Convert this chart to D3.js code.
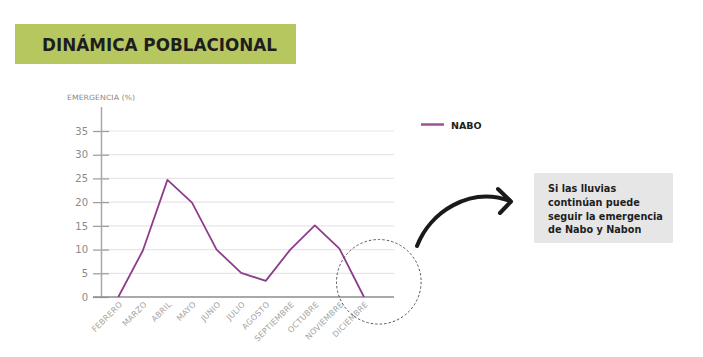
<!DOCTYPE html>
<html><head><meta charset="utf-8">
<script src="https://cdn.jsdelivr.net/npm/d3@7"></script>
<style>body{margin:0;background:#fff}svg{display:block}</style>
</head><body>
<script>
const months = ["FEBRERO","MARZO","ABRIL","MAYO","JUNIO","JULIO","AGOSTO","SEPTIEMBRE","OCTUBRE","NOVIEMBRE","DICIEMBRE"];
const nabo = [0, 9.8, 24.7, 19.9, 10, 5.1, 3.4, 10, 15.1, 10.2, 0];
const yTicks = [0,5,10,15,20,25,30,35];
const noteLines = ["Si las lluvias","continúan puede","seguir la emergencia","de Nabo y Nabon"];

const W=703,H=357;
const svg=d3.select("body").append("svg").attr("width",W).attr("height",H);
const F="'DejaVu Sans', sans-serif";

// title
svg.append("rect").attr("x",15).attr("y",24).attr("width",281).attr("height",40).attr("fill","#b6c760");
svg.append("text").attr("x",159.5).attr("y",51).attr("text-anchor","middle")
  .attr("font-family",F).attr("font-weight","bold").attr("font-size",16.8).attr("fill","#1e1e1e")
  .attr("textLength",235).attr("lengthAdjust","spacingAndGlyphs")
  .text("DINÁMICA POBLACIONAL");

const x=d3.scalePoint().domain(months).range([118.3,364]);
const y=d3.scaleLinear().domain([0,35]).range([297,131]);

// grid
svg.append("g").selectAll("line").data(yTicks.filter(d=>d>0)).join("line")
  .attr("x1",101).attr("x2",394).attr("y1",d=>y(d)).attr("y2",d=>y(d))
  .attr("stroke","#e6e6e6").attr("stroke-width",1.2);

// y axis
const ya=svg.append("g").attr("transform","translate(101,0)").call(d3.axisLeft(y).tickValues(yTicks).tickSize(0).tickPadding(13));
ya.select(".domain").remove();
ya.selectAll("text").attr("font-family",F).attr("font-size",10).attr("fill","#8a8a8a");
ya.selectAll(".tick").append("line").attr("x1",-8).attr("x2",8).attr("stroke","#9a9a9a").attr("stroke-width",1.2);
svg.append("line").attr("x1",101.5).attr("x2",101.5).attr("y1",107).attr("y2",297).attr("stroke","#a8a8a8").attr("stroke-width",1.5);
svg.append("line").attr("x1",93).attr("x2",394).attr("y1",297).attr("y2",297).attr("stroke","#8c8c8c").attr("stroke-width",1.5);

svg.append("text").attr("x",67).attr("y",100).attr("font-family",F).attr("font-size",7.2)
  .attr("fill","#8a8a8a").attr("textLength",68).attr("lengthAdjust","spacingAndGlyphs").text("EMERGENCIA (%)");

// x labels
const xa=svg.append("g").attr("transform","translate(0,297)").call(d3.axisBottom(x).tickSize(0).tickPadding(0));
xa.select(".domain").remove();
xa.selectAll("text").attr("font-family",F).attr("font-size",8).attr("fill","#a3a3a3")
  .attr("letter-spacing",0.2)
  .attr("text-anchor","end").attr("dy",0).attr("transform","translate(4,8) rotate(-45)");

// line
svg.append("path").datum(nabo).attr("fill","none").attr("stroke","#8d3d8c").attr("stroke-width",1.8)
  .attr("stroke-linejoin","round")
  .attr("d",d3.line().x((d,i)=>x(months[i])).y(d=>y(d)));

// legend
svg.append("line").attr("x1",421).attr("x2",444).attr("y1",124.5).attr("y2",124.5).attr("stroke","#9d4f9c").attr("stroke-width",2.5);
svg.append("text").attr("x",451).attr("y",128.5).attr("font-family",F).attr("font-weight","bold")
  .attr("font-size",9.5).attr("fill","#1e1e1e").text("NABO");

// dashed circle
svg.append("circle").attr("cx",378.8).attr("cy",281.8).attr("r",42.3).attr("fill","none")
  .attr("stroke","#444").attr("stroke-width",0.9).attr("stroke-dasharray","2.5,2");

// arrow
svg.append("path").attr("d","M417,246 C430,212 470,186 510,201").attr("fill","none")
  .attr("stroke","#1a1a1a").attr("stroke-width",4).attr("stroke-linecap","round");
svg.append("path").attr("d","M498,189 L511,201.5 L500,213").attr("fill","none")
  .attr("stroke","#1a1a1a").attr("stroke-width",4).attr("stroke-linecap","round").attr("stroke-linejoin","round");

// note box
svg.append("rect").attr("x",534).attr("y",173).attr("width",139).attr("height",70).attr("fill","#e6e6e6");
svg.append("g").selectAll("text").data(noteLines).join("text")
  .attr("x",548).attr("y",(d,i)=>192+i*13.8).attr("font-family",F).attr("font-weight","bold")
  .attr("font-size",9.7).attr("fill","#1e1e1e").text(d=>d);
</script>
</body></html>
